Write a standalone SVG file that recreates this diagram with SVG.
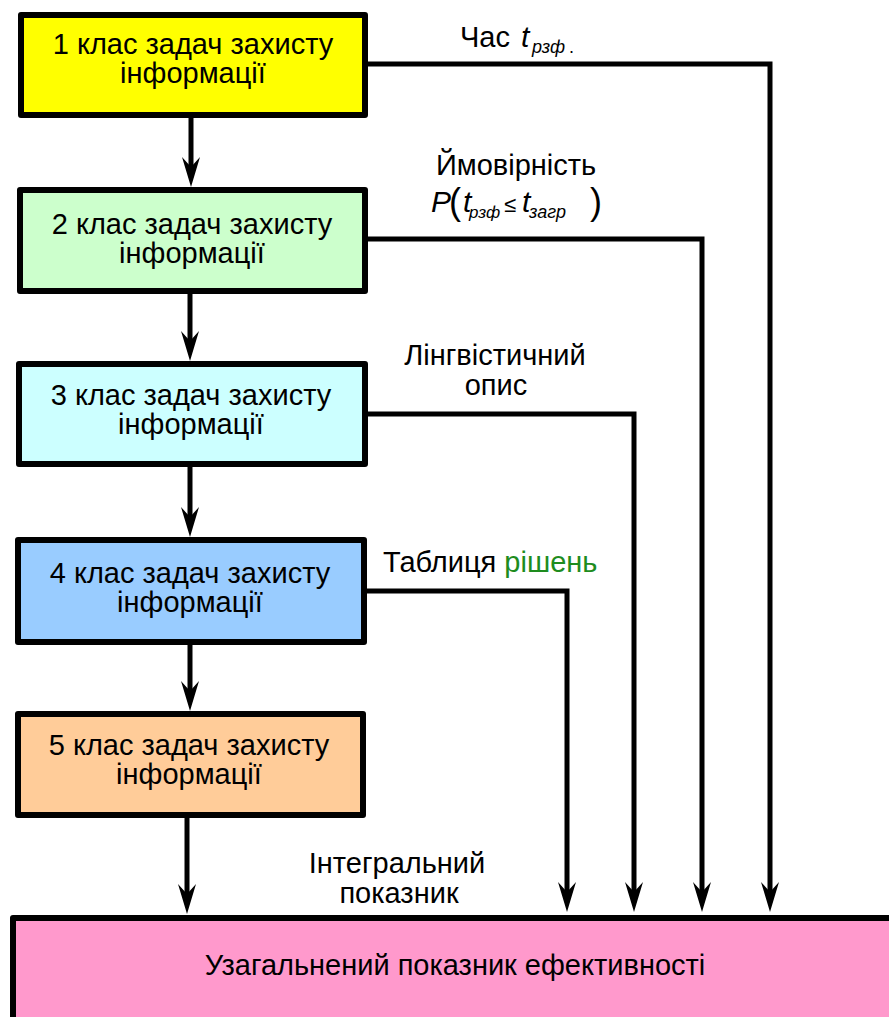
<svg xmlns="http://www.w3.org/2000/svg" width="889" height="1017" viewBox="0 0 889 1017">
<style>
.box{stroke:#000;stroke-width:6;stroke-linejoin:round}
.t{font-family:"Liberation Sans",Arial,sans-serif;font-size:29px;fill:#000}
.lbl{font-family:"Liberation Sans",Arial,sans-serif;font-size:29px;fill:#000}
.it{font-style:italic}
.sub{font-size:18px}
.big{font-size:30px}
.par{font-size:36px}
.conn{stroke:#000;stroke-width:5;fill:none}
</style>
<defs>
<marker id="ah" markerUnits="userSpaceOnUse" viewBox="0 0 30 20" markerWidth="30" markerHeight="20" refX="12" refY="10" orient="auto">
<path d="M0,1 L30,10 L0,19 L10,10 Z" fill="#000"/>
</marker>
</defs>
<rect width="889" height="1017" fill="#fff"/>
<g id="connectors">
<line class="conn" x1="191" y1="118" x2="191" y2="169" marker-end="url(#ah)"/>
<line class="conn" x1="190" y1="294" x2="190" y2="343" marker-end="url(#ah)"/>
<line class="conn" x1="190" y1="467" x2="190" y2="519" marker-end="url(#ah)"/>
<line class="conn" x1="190" y1="645" x2="190" y2="693" marker-end="url(#ah)"/>
<line class="conn" x1="187" y1="818" x2="187" y2="896" marker-end="url(#ah)"/>
<polyline class="conn" points="367,64 770,64 770,894" marker-end="url(#ah)"/>
<polyline class="conn" points="367,239 702,239 702,894" marker-end="url(#ah)"/>
<polyline class="conn" points="366,414 634,414 634,894" marker-end="url(#ah)"/>
<polyline class="conn" points="366,591 567,591 567,894" marker-end="url(#ah)"/>
</g>
<g id="node1">
<rect class="box" x="21" y="15" width="344" height="100" fill="#FFFF00"/>
<text class="t" text-anchor="middle"><tspan x="193" y="54">1 клас задач захисту</tspan><tspan x="193" y="83">інформації</tspan></text>
</g>
<g id="node2">
<rect class="box" x="20" y="190" width="345" height="101" fill="#CCFFCC"/>
<text class="t" text-anchor="middle"><tspan x="192" y="234">2 клас задач захисту</tspan><tspan x="192" y="263">інформації</tspan></text>
</g>
<g id="node3">
<rect class="box" x="19" y="364" width="346" height="100" fill="#CCFFFF"/>
<text class="t" text-anchor="middle"><tspan x="191" y="405">3 клас задач захисту</tspan><tspan x="191" y="434">інформації</tspan></text>
</g>
<g id="node4">
<rect class="box" x="18" y="540" width="346" height="102" fill="#99CCFF"/>
<text class="t" text-anchor="middle"><tspan x="190" y="583">4 клас задач захисту</tspan><tspan x="190" y="612">інформації</tspan></text>
</g>
<g id="node5">
<rect class="box" x="18" y="714" width="345" height="101" fill="#FFCC99"/>
<text class="t" text-anchor="middle"><tspan x="189" y="755">5 клас задач захисту</tspan><tspan x="189" y="784">інформації</tspan></text>
</g>
<g id="node6">
<rect class="box" x="13" y="918" width="900" height="120" fill="#FF99CC"/>
<text class="t" text-anchor="middle" x="455" y="975">Узагальнений показник ефективності</text>
</g>
<g id="labels">
<text class="lbl" x="460" y="47">Час</text>
<text class="lbl it big" x="521" y="47">t</text>
<text class="lbl it sub" x="532" y="53">рзф</text>
<text class="lbl sub" x="569" y="53">.</text>
<text class="lbl" x="516" y="175" text-anchor="middle">Ймовірність</text>
<text class="lbl it big" x="431" y="212">P</text>
<text class="lbl par" x="449" y="214">(</text>
<text class="lbl it big" x="463" y="212">t</text>
<text class="lbl it sub" x="469" y="218" style="font-size:17px">рзф</text>
<text class="lbl" x="504" y="212" style="font-size:22px">≤</text>
<text class="lbl it big" x="522" y="212">t</text>
<text class="lbl it sub" x="529" y="218">загр</text>
<text class="lbl par" x="590" y="214">)</text>
<text class="lbl" text-anchor="middle"><tspan x="495" y="365">Лінгвістичний</tspan><tspan x="496" y="395">опис</tspan></text>
<text class="lbl" x="383" y="572">Таблиця <tspan fill="#1E8C1E">рішень</tspan></text>
<text class="lbl" text-anchor="middle"><tspan x="397" y="873">Інтегральний</tspan><tspan x="399" y="903">показник</tspan></text>
</g>
</svg>
